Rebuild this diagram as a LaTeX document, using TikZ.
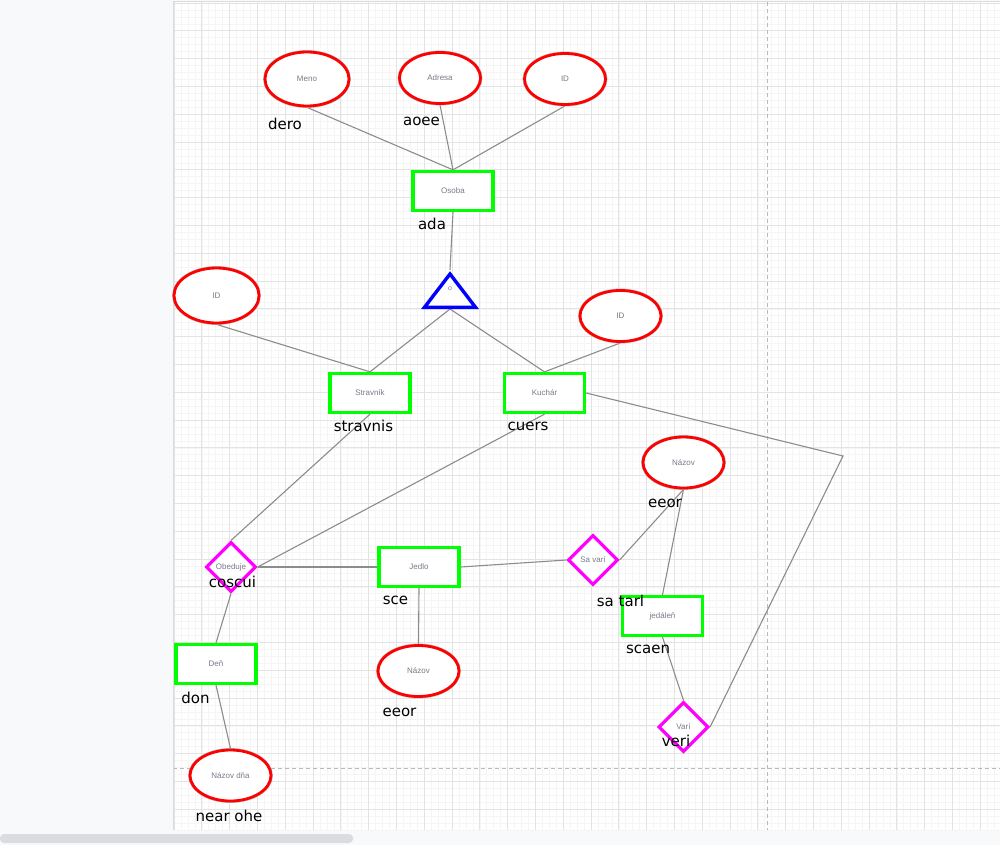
\documentclass[tikz,border=0pt]{standalone}
\usepackage{fontspec}
\setmainfont{Liberation Sans}
\newfontfamily\lblfont{DejaVu Sans}
\usetikzlibrary{shapes.geometric,backgrounds}
\definecolor{pagebg}{HTML}{F8F9FA}
\definecolor{gridmaj}{HTML}{E3E3E3}
\definecolor{gridmin}{HTML}{F5F5F5}
\definecolor{edgegray}{HTML}{8C8C8C}
\definecolor{txtgray}{HTML}{7A7A88}
\definecolor{entgreen}{HTML}{00FF00}
\definecolor{attrred}{HTML}{FF0000}
\definecolor{relmag}{HTML}{FF00FF}
\definecolor{isablue}{HTML}{0000FF}
\definecolor{scrollc}{HTML}{DADCE0}
\tikzset{
  attr/.style={ellipse, draw=attrred, line width=2.8pt, fill=white,
    preaction={draw=gray!55, line width=3.8pt},
    minimum width=81pt, minimum height=51pt, inner sep=0pt,
    font=\fontsize{8}{9}\selectfont, text=txtgray},
  entity/.style={rectangle, draw=entgreen, line width=3.3pt, fill=white,
    minimum width=80pt, minimum height=39pt, inner sep=0pt,
    font=\fontsize{8}{9}\selectfont, text=txtgray},
  rel/.style={diamond, draw=relmag, line width=3.2pt, fill=white, aspect=1,
    minimum width=50pt, minimum height=50pt, inner sep=0pt,
    font=\fontsize{8}{9}\selectfont, text=txtgray},
  conn/.style={draw=edgegray, line width=1.1pt},
  lbl/.style={font=\lblfont\fontsize{15}{18}\selectfont, text=black, inner sep=0pt},
}
\begin{document}
\begin{tikzpicture}[x=1pt,y=-1pt]
\useasboundingbox (0,0) rectangle (1000,845);

% ---- nodes
\node[attr, minimum width=84pt, minimum height=54pt] (meno) at (307,79) {Meno};
\node[attr] (adresa) at (440,78) {Adresa};
\node[attr] (id1) at (565,79) {ID};
\node[entity] (osoba) at (453,191) {Osoba};
\node[attr, minimum width=85pt, minimum height=55pt] (id2) at (216.5,295.5) {ID};
\node[attr] (id3) at (620.5,316) {ID};
\node[entity] (strav) at (370,393) {Stravník};
\node[entity] (kuch) at (544.5,393) {Kuchár};
\node[rel] (obed) at (231,567) {Obeduje};
\node[entity] (jedlo) at (419,567) {Jedlo};
\node[attr] (nazov1) at (418.5,671) {Názov};
\node[entity] (den) at (216,664) {Deň};
\node[attr] (nazovdna) at (230.5,775.5) {Názov dňa};
\node[rel] (savari) at (593,560) {Sa varí};
\node[attr] (nazov2) at (683.5,462.5) {Názov};
\node[entity] (jedalen) at (662.5,616) {jedáleň};
\node[rel] (vari) at (683.5,727) {Varí};
% triangle (ISA)
\filldraw[draw=isablue, fill=white, line width=3.4pt, line join=miter]
  (450,274) -- (475.5,307.3) -- (424.5,307.3) -- cycle;
\node[font=\fontsize{7}{8}\selectfont, text=txtgray, inner sep=0pt] (tri) at (450,289) {o};
\coordinate (triapex) at (450,270);
\coordinate (tribase) at (450,309);
\coordinate (wp) at (843,456);

% ---- labels
\node[lbl] (l1) at (285,124) {dero};
\node[lbl] (l2) at (421.5,121) {aoee};
\node[lbl] (l3) at (432,224) {ada};
\node[lbl] (l4) at (363.5,426) {stravnis};
\node[lbl] (l5) at (528,426) {cuers};
\node[lbl] (l6) at (232.5,582) {coscui};
\node[lbl] (l7) at (395.5,600.5) {sce};
\node[lbl] (l8) at (399.5,712) {eeor};
\node[lbl] (l9) at (195.5,698) {don};
\node[lbl] (l10) at (229,816) {near ohe};
\node[lbl] (l11) at (665,503) {eeor};
\node[lbl] (l12) at (620.5,600.5) {sa tarl};
\node[lbl] (l13) at (648,649) {scaen};
\node[lbl] (l14) at (676,741) {veri};

\begin{scope}[on background layer]
% page background
\fill[pagebg] (0,0) rectangle (1000,845);
\fill[white] (173,2) rectangle (1000,830);
% minor grid
\foreach \k in {0,...,119} {
  \draw[gridmin, line width=0.6pt] ({174+6.95*\k},2) -- ({174+6.95*\k},830);
  \draw[gridmin, line width=0.6pt] (173,{3+6.95*\k}) -- (1000,{3+6.95*\k});
}
% major grid
\foreach \k in {0,...,29} {
  \draw[gridmaj, line width=0.9pt] ({174+27.8*\k},2) -- ({174+27.8*\k},830);
  \draw[gridmaj, line width=0.9pt] (173,{3+27.8*\k}) -- (1000,{3+27.8*\k});
}
% page break lines
\draw[gray!55, line width=0.9pt, dash pattern=on 4pt off 3pt] (767,2) -- (767,830);
\draw[gray!55, line width=0.9pt, dash pattern=on 4pt off 3pt] (173,768) -- (1000,768);
% canvas border
\draw[scrollc, line width=1pt] (173,830) -- (173,2) -- (1000,2);
% scrollbar
\fill[scrollc, rounded corners=4pt] (0,834) rectangle (353,843);

% ---- connectors
\draw[conn] (meno.south) -- (osoba.north);
\draw[conn] (adresa.south) -- (osoba.north);
\draw[conn] (id1.south) -- (osoba.north);
\draw[conn] (osoba.south) -- (triapex);
\draw[conn] (id2.south) -- (strav.north);
\draw[conn] (tribase) -- (strav.north);
\draw[conn] (tribase) -- (kuch.north);
\draw[conn] (id3.south) -- (kuch.north);
\draw[conn] (kuch.east) -- (wp) -- (vari.east);
\draw[conn] (strav.south) -- (obed.north);
\draw[conn] (kuch.south) -- (obed.east);
\draw[conn] (obed.east) -- (jedlo.west);
\draw[conn] (obed.south) -- (den.north);
\draw[conn] (den.south) -- (nazovdna.north);
\draw[conn] (jedlo.south) -- (nazov1.north);
\draw[conn] (jedlo.east) -- (savari.west);
\draw[conn] (savari.east) -- (nazov2.south);
\draw[conn] (nazov2.south) -- (jedalen.north);
\draw[conn] (jedalen.south) -- (vari.north);
\end{scope}
\end{tikzpicture}
\end{document}
